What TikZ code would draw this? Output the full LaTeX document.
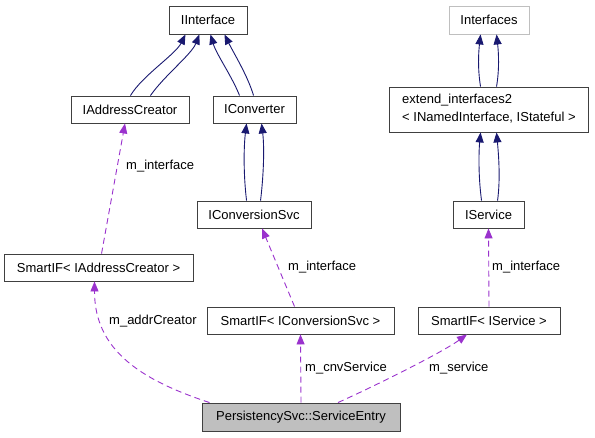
\documentclass[tikz,border=0pt]{standalone}
\usepackage{fontspec}
\setmainfont{Liberation Sans}
\usetikzlibrary{arrows.meta}
\definecolor{navyc}{HTML}{191970}
\definecolor{purp}{HTML}{9A32CD}
\definecolor{grayfill}{HTML}{BFBFBF}
\begin{document}
\begin{tikzpicture}[x=1pt,y=-1pt,
  box/.style={draw=black!75,line width=0.9pt,fill=white,inner sep=0pt,minimum height=27pt,font=\fontsize{13}{15}\selectfont},
  inh/.style={draw=navyc,line width=0.9pt,-{Triangle[length=10pt,width=8pt]}},
  usage/.style={draw=purp,line width=0.9pt,dash pattern=on 6pt off 4pt,-{Triangle[length=10pt,width=8pt]}},
  lbl/.style={anchor=west,inner sep=0pt,font=\fontsize{13}{15}\selectfont}]
\useasboundingbox (0,0) rectangle (595,437);
% nodes
\node[box,minimum width=78pt,minimum height=28pt] (ii) at (208,20) {IInterface};
\node[box,minimum width=118pt] (iac) at (130,109.5) {IAddressCreator};
\node[box,minimum width=83pt] (icv) at (254.5,109.5) {IConverter};
\node[box,minimum width=114pt] (ics) at (254,214.5) {IConversionSvc};
\node[box,draw=grayfill,minimum width=80pt,minimum height=28pt] (ifs) at (489,20) {Interfaces};
\node[box,minimum width=199pt,minimum height=45pt] (ext) at (488.5,109.5) {};
\node[lbl,anchor=west] (extA) at (402,100) {extend\_interfaces2};
\node[lbl,anchor=west] (extB) at (402,118) {< INamedInterface, IStateful >};
\node[box,minimum width=71pt] (isv) at (488.5,214.5) {IService};
\node[box,minimum width=189pt] (sac) at (98.5,267.5) {SmartIF< IAddressCreator >};
\node[box,minimum width=187pt] (scs) at (300.5,320.5) {SmartIF< IConversionSvc >};
\node[box,minimum width=142pt] (ssv) at (489,320.5) {SmartIF< IService >};
\node[box,fill=grayfill,minimum width=198pt,minimum height=28pt] (se) at (301,417) {PersistencySvc::ServiceEntry};
% inheritance
\draw[inh] ([xshift=-59pt]iac.north east) .. controls +(12,-20) and +(-10,20) .. ([xshift=-62pt]ii.south east);
\draw[inh] ([xshift=-39pt]iac.north east) .. controls +(14,-20) and +(-8,20) .. ([xshift=-48pt]ii.south east);
\draw[inh] ([xshift=27pt]icv.north west) .. controls +(-8,-20) and +(6,20) .. ([xshift=-37pt]ii.south east);
\draw[inh] ([xshift=41pt]icv.north west) .. controls +(-6,-20) and +(10,20) .. ([xshift=-23pt]ii.south east);
\draw[inh] ([xshift=50pt]ics.north west) .. controls +(-3,-25) and +(-3,25) .. ([xshift=34pt]icv.south west);
\draw[inh] ([xshift=64pt]ics.north west) .. controls +(3,-25) and +(3,25) .. ([xshift=49pt]icv.south west);
\draw[inh] ([xshift=29pt]isv.north west) .. controls +(-3,-22) and +(-2,22) .. ([xshift=92pt]ext.south west);
\draw[inh] ([xshift=45pt]isv.north west) .. controls +(3,-22) and +(2,22) .. ([xshift=108pt]ext.south west);
\draw[inh] ([xshift=92pt]ext.north west) .. controls +(-3,-18) and +(-2,18) .. ([xshift=32pt]ifs.south west);
\draw[inh] ([xshift=108pt]ext.north west) .. controls +(3,-18) and +(2,18) .. ([xshift=48pt]ifs.south west);
% usage
\draw[usage] ([xshift=98pt]sac.north west) -- ([xshift=-5pt]iac.south);
\node[lbl] (l1) at (126,166) {m\_interface};
\draw[usage] ([xshift=88pt]scs.north west) -- ([xshift=8pt]ics.south);
\node[lbl] (l2) at (288,267) {m\_interface};
\draw[usage] (ssv.north) -- (isv.south);
\node[lbl] (l3) at (492,267) {m\_interface};
\draw[usage] ([xshift=8pt]se.north west) .. controls +(-70,-23) and +(0,68) .. ([xshift=-4pt]sac.south);
\node[lbl] (l4) at (109,321) {m\_addrCreator};
\draw[usage] (se.north) -- (scs.south);
\node[lbl] (l5) at (305,368) {m\_cnvService};
\draw[usage] ([xshift=37pt]se.north) .. controls +(40,-18) and +(-25,18) .. ([xshift=-22pt]ssv.south);
\node[lbl] (l6) at (429,368) {m\_service};
\end{tikzpicture}
\end{document}
